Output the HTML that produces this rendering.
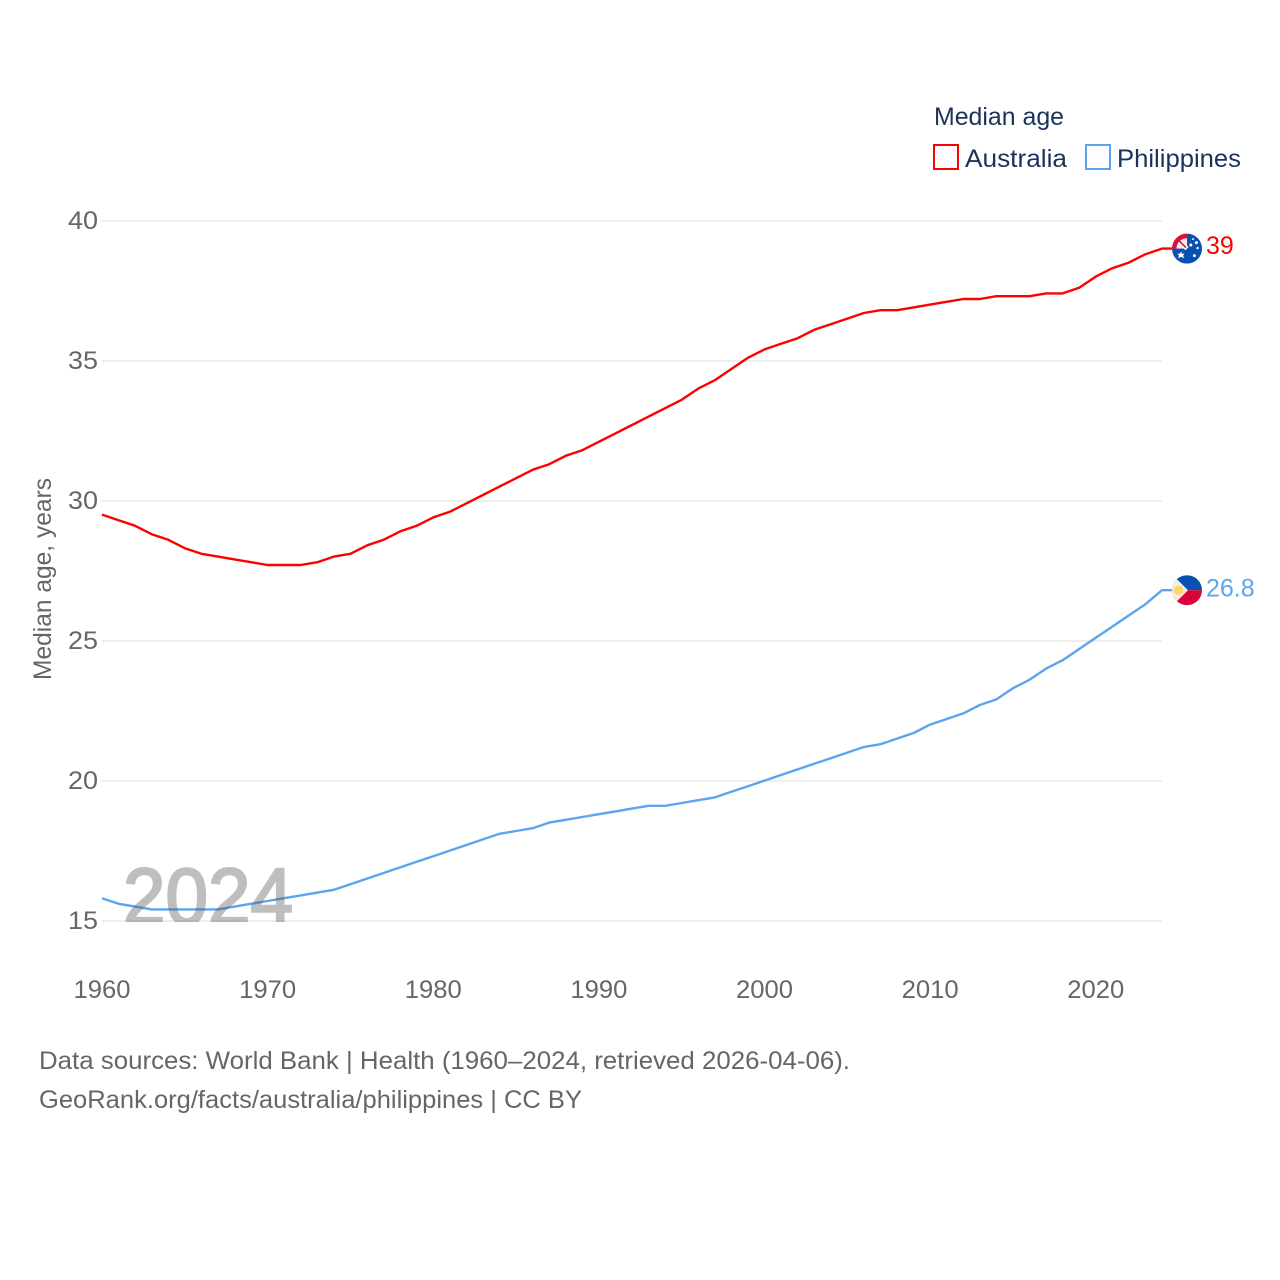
<!DOCTYPE html>
<html lang="en">
<head>
<meta charset="utf-8">
<title>Median age: Australia and Philippines</title>
<style>
html,body{margin:0;padding:0;background:#fff;width:1280px;height:1280px;overflow:hidden}
svg{display:block}
text{font-family:"Liberation Sans",sans-serif}
</style>
</head>
<body>
<svg id="chart" width="1280" height="1280" viewBox="0 0 1280 1280" xmlns="http://www.w3.org/2000/svg">
  <defs>
    <clipPath id="year-clip"><rect x="100" y="840" width="220" height="82"/></clipPath>
    <clipPath id="aus-clip"><circle cx="0" cy="0" r="15"/></clipPath>
    <clipPath id="phl-clip"><circle cx="0" cy="0" r="15"/></clipPath>
  </defs>
  <rect width="1280" height="1280" fill="#fff"/>
  <g id="grid"></g>
  <g id="y-ticks"></g>
  <g id="x-ticks"></g>
  <text transform="translate(51,680) rotate(-90)" font-size="25" fill="#666" textLength="202" lengthAdjust="spacingAndGlyphs">Median age, years</text>
  <g id="lines" transform="translate(0,-0.4)"></g>
  <g clip-path="url(#year-clip)">
    <text x="123" y="924" font-size="80" fill="#5a5a5a" stroke="#5a5a5a" stroke-width="2.4" opacity="0.39" textLength="170" lengthAdjust="spacingAndGlyphs">2024</text>
  </g>

  <g id="flag-aus">
    <g clip-path="url(#aus-clip)">
      <rect x="-15" y="-15" width="30" height="30" fill="#0a50b0"/>
      <rect x="-15" y="-15" width="15" height="15" fill="#f6e4ea"/>
      <path d="M-12 -12L0 0" stroke="#fff" stroke-width="4.5"/>
      <path d="M-10 -10L-1 -1" stroke="#c8284e" stroke-width="1.8"/>
      <path d="M-13 0A13 13 0 0 1 0 -13" fill="none" stroke="#d8103a" stroke-width="5"/>
      <path d="M-6 2.8L-4.9 5.2L-2.4 5L-3.9 7L-2.9 9.4L-6 8.4L-9 9.4L-8 7L-9.6 5L-7.1 5.2Z" fill="#fff"/>
      <circle cx="3.8" cy="-3.6" r="1.5" fill="#fff"/>
      <circle cx="9.4" cy="-6" r="1.5" fill="#fff"/>
      <circle cx="10.6" cy="-0.5" r="1.2" fill="#fff"/>
      <circle cx="7.4" cy="7" r="1.5" fill="#fff"/>
      <circle cx="6" cy="-9.5" r="1" fill="#fff"/>
    </g>
  </g>
  <g id="flag-phl">
    <g clip-path="url(#phl-clip)">
      <rect x="-15" y="-15" width="30" height="15" fill="#0a50b0"/>
      <rect x="-15" y="0" width="30" height="15" fill="#d8033a"/>
      <path d="M-15 -16L1 0L-15 16Z" fill="#f4efe6"/>
      <circle cx="-8.5" cy="0" r="4.8" fill="#f9d56a"/>
    </g>
  </g>
  <g id="end-labels"></g>

  <g>
    <text x="934" y="125" font-size="25" fill="#1a3358" textLength="130" lengthAdjust="spacingAndGlyphs">Median age</text>
    <rect x="934" y="145" width="24" height="24" fill="none" stroke="#ff0000" stroke-width="2"/>
    <text x="965" y="167" font-size="25" fill="#1a3358" textLength="102" lengthAdjust="spacingAndGlyphs">Australia</text>
    <rect x="1086" y="145" width="24" height="24" fill="none" stroke="#5ba4ee" stroke-width="2"/>
    <text x="1117" y="167" font-size="25" fill="#1a3358" textLength="124" lengthAdjust="spacingAndGlyphs">Philippines</text>
  </g>

  <text x="39" y="1069" font-size="25" fill="#666" textLength="811" lengthAdjust="spacingAndGlyphs">Data sources: World Bank | Health (1960–2024, retrieved 2026-04-06).</text>
  <text x="39" y="1108" font-size="25" fill="#666" textLength="543" lengthAdjust="spacingAndGlyphs">GeoRank.org/facts/australia/philippines | CC BY</text>
</svg>
<script>
const years = [1960,1961,1962,1963,1964,1965,1966,1967,1968,1969,1970,1971,1972,1973,1974,1975,1976,1977,1978,1979,1980,1981,1982,1983,1984,1985,1986,1987,1988,1989,1990,1991,1992,1993,1994,1995,1996,1997,1998,1999,2000,2001,2002,2003,2004,2005,2006,2007,2008,2009,2010,2011,2012,2013,2014,2015,2016,2017,2018,2019,2020,2021,2022,2023,2024];
const australia = [29.5,29.3,29.1,28.8,28.6,28.3,28.1,28.0,27.9,27.8,27.7,27.7,27.7,27.8,28.0,28.1,28.4,28.6,28.9,29.1,29.4,29.6,29.9,30.2,30.5,30.8,31.1,31.3,31.6,31.8,32.1,32.4,32.7,33.0,33.3,33.6,34.0,34.3,34.7,35.1,35.4,35.6,35.8,36.1,36.3,36.5,36.7,36.8,36.8,36.9,37.0,37.1,37.2,37.2,37.3,37.3,37.3,37.4,37.4,37.6,38.0,38.3,38.5,38.8,39.0];
const philippines = [15.8,15.6,15.5,15.4,15.4,15.4,15.4,15.4,15.5,15.6,15.7,15.8,15.9,16.0,16.1,16.3,16.5,16.7,16.9,17.1,17.3,17.5,17.7,17.9,18.1,18.2,18.3,18.5,18.6,18.7,18.8,18.9,19.0,19.1,19.1,19.2,19.3,19.4,19.6,19.8,20.0,20.2,20.4,20.6,20.8,21.0,21.2,21.3,21.5,21.7,22.0,22.2,22.4,22.7,22.9,23.3,23.6,24.0,24.3,24.7,25.1,25.5,25.9,26.3,26.8];
const yTickLabels = [15,20,25,30,35,40];
const xTickLabels = [1960,1970,1980,1990,2000,2010,2020];

const NS = 'http://www.w3.org/2000/svg';
const xScale = function (year) { return 102 + (year - 1960) * (1162 - 102) / (2024 - 1960); };
const yScale = function (value) { return 921 - (value - 15) * (921 - 221) / (40 - 15); };
const make = function (tag, parentId) {
  const el = document.createElementNS(NS, tag);
  document.getElementById(parentId).appendChild(el);
  return el;
};

yTickLabels.forEach(function (tick) {
  const line = make('line', 'grid');
  
  
  line.setAttribute('x1', 102);
  line.setAttribute('x2', 1162);
  line.setAttribute('y1', yScale(tick));
  line.setAttribute('y2', yScale(tick));
  line.setAttribute('stroke', '#eeeeee');
  line.setAttribute('stroke-width', 2);

  const label = make('text', 'y-ticks');
  
  
  label.setAttribute('x', 98);
  label.setAttribute('y', yScale(tick) + 8);
  label.setAttribute('text-anchor', 'end');
  label.setAttribute('font-size', 25);
  label.setAttribute('fill', '#666');
  label.setAttribute('textLength', 30);
  label.setAttribute('lengthAdjust', 'spacingAndGlyphs');
  label.textContent = tick;
});

xTickLabels.forEach(function (tick) {
  const label = make('text', 'x-ticks');
  
  
  label.setAttribute('x', xScale(tick));
  label.setAttribute('y', 998);
  label.setAttribute('text-anchor', 'middle');
  label.setAttribute('font-size', 25);
  label.setAttribute('fill', '#666');
  label.setAttribute('textLength', 57);
  label.setAttribute('lengthAdjust', 'spacingAndGlyphs');
  label.textContent = tick;
});

const drawSeries = function (values, color, seriesName, flagId, labelOffset) {
  const last = values[values.length - 1];
  const endX = xScale(years[years.length - 1]);
  const endY = yScale(last);
  const pts = values.map(function (v, i) { return xScale(years[i]) + ',' + yScale(v); });
  pts.push((endX + 10) + ',' + endY);

  const line = make('polyline', 'lines');
  
  
  line.setAttribute('points', pts.join(' '));
  line.setAttribute('fill', 'none');
  line.setAttribute('stroke', color);
  line.setAttribute('stroke-width', 2.4);
  line.setAttribute('stroke-linejoin', 'round');

  document.getElementById(flagId).setAttribute('transform', 'translate(1187,' + (endY - 0.4) + ')');

  const label = make('text', 'end-labels');
  
  
  label.setAttribute('x', 1206);
  label.setAttribute('y', endY + labelOffset);
  label.setAttribute('font-size', 25);
  label.setAttribute('fill', color);
  label.textContent = last;
};

drawSeries(australia, '#ff0000', 'australia', 'flag-aus', 5);
drawSeries(philippines, '#5ba4ee', 'philippines', 'flag-phl', 6);
</script>
</body>
</html>
